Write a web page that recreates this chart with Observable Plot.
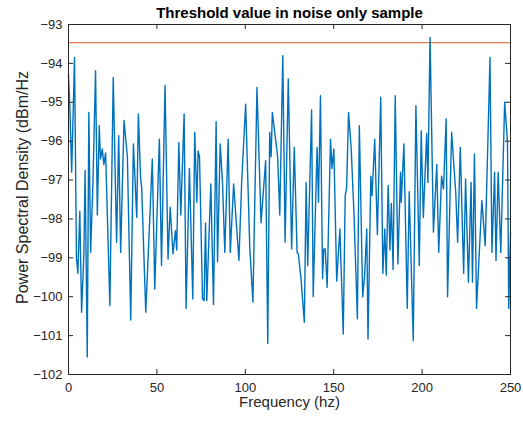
<!DOCTYPE html>
<html><head><meta charset="utf-8">
<script src="https://cdn.jsdelivr.net/npm/d3@7"></script>
<script src="https://cdn.jsdelivr.net/npm/@observablehq/plot@0.6"></script>
<style>html,body{margin:0;padding:0;background:#fff}</style>
</head><body><div id="chart"></div>
<script>
const freq = [0,0.8,1.8,3.4,4.5,5.3,6.4,7.4,8.7,9.4,10.6,11.5,12.5,13.8,15.3,16.3,17.4,18.1,19.1,20,21,23.4,25.3,27.2,28.4,29.5,31.4,33.3,35.2,36.7,38.6,39.5,40.8,41.4,43.7,47.4,48.8,51.4,52.6,54.6,56.3,57.5,59.1,60.5,61.2,62.4,63.5,65.4,66.5,68.4,70.3,71.4,72.6,73.3,74.1,75.8,76.7,77.5,78.2,80.5,82,83.5,84.3,85.8,87.1,88.4,90.3,91.5,93.4,96.4,97.9,100.2,102.5,104.3,106.6,108.9,111.5,112.7,113.8,114.6,115.3,118.3,119.5,121.2,122.5,124.3,126.2,127.7,129.3,130,131.5,133.4,134.4,135.3,137.5,138.4,140.6,141.4,142.5,143.7,144.4,145.2,146.3,148.2,149,150.1,151.7,153.5,155.4,156.5,157.3,158.4,159.9,161.5,163.4,164.5,166.4,167.5,168.7,169.4,171,171.7,173.2,174.7,176.6,177.8,178.9,179.7,180.8,181.8,182.6,183.6,184.8,186.3,187.8,188.2,189.7,191.6,192.7,195,196.5,198.4,199.5,200.7,202.6,203.3,204.5,206.4,208.3,209.4,211,212.1,213.6,214.4,216.7,219,220.1,221.6,223.5,224.6,226.2,227.7,228.5,229.6,230.8,233.8,235.7,238.4,239.5,241,241.8,243,244.5,246.7,248.3,249,250];
const psd = [-94.3,-95.2,-96.8,-93.85,-99.0,-99.4,-97.8,-100.4,-98.9,-96.75,-101.55,-95.26,-98.86,-97.1,-94.19,-97.9,-95.6,-96.46,-96.2,-96.6,-96.3,-100.23,-94.36,-98.6,-95.86,-98.86,-95.47,-96.4,-100.6,-96.07,-97.96,-95.3,-96.97,-97.2,-100.4,-96.46,-99.8,-95.95,-99.2,-94.57,-99.03,-97.7,-98.9,-98.3,-98.8,-96.03,-97.9,-95.3,-100.3,-96.7,-100.06,-95.77,-97.57,-96.25,-96.4,-100.06,-100.1,-98.1,-100.1,-97.1,-100.2,-95.5,-99.1,-96.07,-97.06,-98.86,-95.95,-98.86,-97.1,-99.07,-97.1,-95.05,-98.7,-100.14,-94.62,-98.1,-96.5,-101.2,-95.77,-96.4,-95.26,-96.4,-97.9,-93.8,-98.6,-94.4,-98.77,-96.16,-98.86,-98.9,-99.54,-100.66,-97.06,-99.2,-95.2,-100.0,-96.16,-97.57,-94.83,-99.54,-98.77,-98.77,-99.76,-95.95,-96.7,-96.2,-99.6,-98.26,-100.96,-97.4,-97.2,-95.26,-96.2,-97.9,-100.57,-95.6,-100.0,-99.45,-98.26,-101.09,-96.9,-97.4,-95.95,-98.4,-94.87,-99.4,-98.26,-99.45,-97.14,-98.8,-97.6,-99.3,-94.83,-99.16,-96.8,-97.57,-96.07,-100.3,-97.3,-101.13,-95.09,-99.2,-95.73,-97.96,-95.8,-97.06,-93.33,-98.34,-96.6,-98.86,-96.9,-97.23,-95.43,-100.0,-95.77,-97.3,-98.6,-96.16,-99.4,-96.97,-99.63,-97.06,-99.63,-96.33,-100.3,-97.53,-98.69,-93.85,-98.86,-96.8,-99.07,-96.8,-98.86,-95.0,-96.03,-100.3,-98.34];
const thresholdValue = -93.47;
const xTicks = [0, 50, 100, 150, 200, 250];
const yTicks = [-102, -101, -100, -99, -98, -97, -96, -95, -94, -93];
const titleText = "Threshold value in noise only sample";
const xLabel = "Frequency (hz)";
const yLabel = "Power Spectral Density (dBm/Hz";

const W = 523, H = 423, mL = 68, mR = 13, mT = 24, mB = 49;
const innerW = W - mL - mR, innerH = H - mT - mB;
const axisColor = "#262626";
const series = freq.map((f, i) => ({f, v: psd[i]}));

const chart = Plot.plot({
  width: W, height: H,
  marginLeft: mL, marginRight: mR, marginTop: mT, marginBottom: mB,
  style: {fontFamily: "'Liberation Sans', Arial, sans-serif", fontSize: "13px", color: axisColor, background: "#fff"},
  x: {domain: [0, 250]},
  y: {domain: [-102, -93]},
  marks: [
    Plot.ruleY([thresholdValue], {stroke: "#D95319", strokeWidth: 1.1}),
    Plot.line(series, {x: "f", y: "v", stroke: "#0072BD", strokeWidth: 1.4}),
    Plot.frame({stroke: axisColor, strokeWidth: 1}),
    Plot.tickY(yTicks, {y: d => d, insetRight: innerW - 5, stroke: axisColor}),
    Plot.tickY(yTicks, {y: d => d, insetLeft: innerW - 5, stroke: axisColor}),
    Plot.tickX(xTicks, {x: d => d, insetTop: innerH - 5, stroke: axisColor}),
    Plot.tickX(xTicks, {x: d => d, insetBottom: innerH - 5, stroke: axisColor}),
    Plot.axisX({ticks: xTicks, tickSize: 0, tickPadding: 8, label: null, fontSize: 13, fill: axisColor}),
    Plot.axisY({ticks: yTicks, tickSize: 0, tickPadding: 6, label: null, fontSize: 13, fill: axisColor}),
    Plot.text([titleText], {frameAnchor: "top", dy: -11, lineAnchor: "middle", fontWeight: "bold", fontSize: 15, fill: "#000"}),
    Plot.text([xLabel], {frameAnchor: "bottom", dy: 28, lineAnchor: "middle", fontSize: 15, fill: axisColor}),
    Plot.text([yLabel], {frameAnchor: "left", dx: -46, dy: -12, rotate: -90, textAnchor: "middle", lineAnchor: "middle", fontSize: 16, fill: axisColor})
  ]
});
document.getElementById("chart").appendChild(chart);
</script>
</body></html>
